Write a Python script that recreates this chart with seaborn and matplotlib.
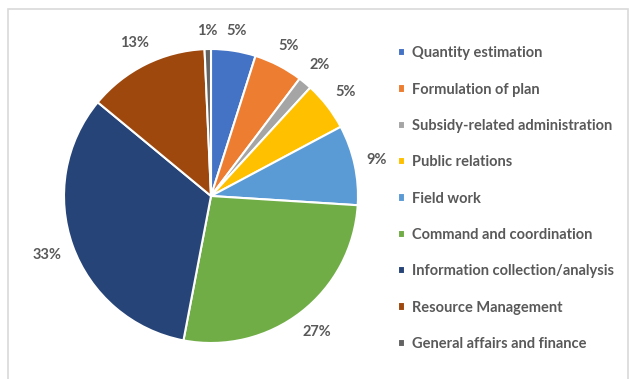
import numpy as np
import matplotlib
matplotlib.use("Agg")
import matplotlib.pyplot as plt
import seaborn as sns
from matplotlib.patches import Rectangle

categories = ["Quantity estimation", "Formulation of plan", "Subsidy-related administration",
              "Public relations", "Field work", "Command and coordination",
              "Information collection/analysis", "Resource Management",
              "General affairs and finance"]
values = [4.9, 5.4, 1.5, 5.4, 8.8, 27.0, 33.0, 13.3, 0.7]
colors = ["#4472C4", "#ED7D31", "#A5A5A5", "#FFC000", "#5B9BD5",
          "#70AD47", "#264478", "#9E480E", "#636363"]

sns.set_theme(style="white")
plt.rcParams['font.family'] = ['Lato', 'DejaVu Sans']
palette = sns.color_palette(colors)

W, H = 629, 379
fig = plt.figure(figsize=(W / 100, H / 100), dpi=100)
fig.patch.set_facecolor("white")

cx, cy, R = 211, 196, 147
ax = fig.add_axes([(cx - R) / W, (H - cy - R) / H, 2 * R / W, 2 * R / H])

wedges, texts, autotexts = ax.pie(
    values, colors=palette, startangle=90, counterclock=False,
    autopct="%.0f%%", pctdistance=1.15,
    wedgeprops=dict(edgecolor="white", linewidth=1.5),
    textprops=dict(color="#595959", fontsize=10.5, fontweight="bold"))
ax.set_xlim(-1, 1)
ax.set_ylim(-1, 1)
ax.set_aspect("equal")

# reposition labels just outside the pie like Excel best-fit
fig.canvas.draw()
renderer = fig.canvas.get_renderer()
gap = 11 / R
for w, t in zip(wedges, autotexts):
    ang = np.deg2rad((w.theta1 + w.theta2) / 2)
    bb = t.get_window_extent(renderer)
    hw = bb.width / 2 / R
    hh = bb.height / 2 / R
    dx, dy = np.cos(ang), np.sin(ang)
    d = 1 + gap + hw * abs(dx) + hh * abs(dy)
    t.set_position((d * dx, d * dy))
    t.set_ha("center")
    t.set_va("center")

leg = fig.legend(wedges, categories, loc="upper left",
                 bbox_to_anchor=(392 / W, 1 - 40.5 / H), frameon=False,
                 prop=dict(family="Lato", weight="bold", size=10.5),
                 labelcolor="#595959", handlelength=0.5, handleheight=0.5,
                 handletextpad=0.5, labelspacing=1.53, borderaxespad=0)

fig.patches.append(Rectangle((7.5 / W, -0.1), (628 - 7.5) / W, 1 - 9 / H + 0.1,
                             transform=fig.transFigure, fill=False,
                             edgecolor="#d9d9d9", linewidth=1.2))

fig.savefig("out.png", dpi=100)
